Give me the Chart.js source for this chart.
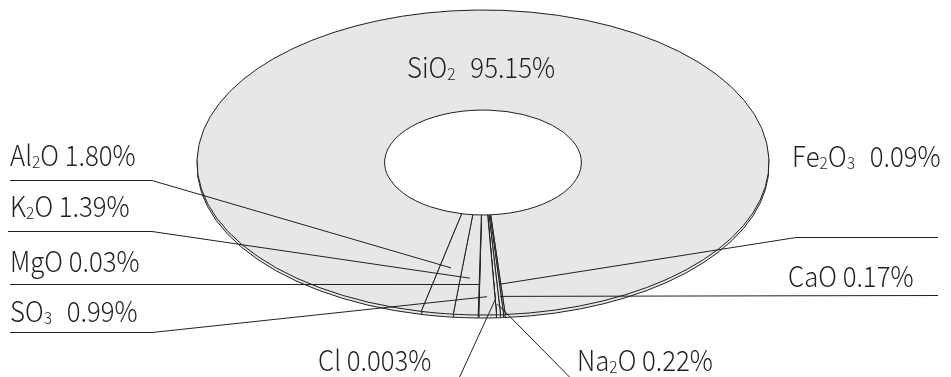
<!DOCTYPE html>
<html>
<head>
<meta charset="utf-8">
<style>
  html, body { margin: 0; padding: 0; background: #fff; overflow: hidden; }
  canvas { display: block; }
</style>
<script src="https://cdn.jsdelivr.net/npm/chart.js@4/dist/chart.umd.min.js"></script>
</head>
<body>
<canvas id="chart" width="951" height="377"></canvas>
<script>
// Oxide composition (mass %), in the order the ring is drawn (clockwise from the end of SiO2)
const components = ['SiO2', 'Fe2O3', 'CaO', 'Na2O', 'Cl', 'SO3', 'MgO', 'K2O', 'Al2O'];
const shares     = [95.15, 0.09, 0.17, 0.22, 0.003, 0.99, 0.03, 1.39, 1.80];

// Styling
const FILL = '#e6e7e8';
const INK = '#231f20';
const FONT = '"Noto Sans CJK KR", "Noto Sans", sans-serif';
const FONT_WEIGHT = 300;
const FONT_SIZE = 28;
const TEXT_SQUEEZE = 0.92;    // slightly condensed lettering
const SUB_SCALE = 0.6;
const SUB_DROP = 1.5;

// Tilted disc: screen centre, radii of the outer ellipse, thickness of the rim
const DISC = { cx: 483, cy: 162.5, rx: 286, ry: 152.5, depth: 3 };
const CUTOUT = 34.4;          // hole, % of the outer radius
const MINOR_CENTRE = 94;      // canvas angle (deg) the small oxides gather around

// Callouts: text anchor (left, baseline), leader route, and where the leader lands on its slice
const callouts = {
  'SiO2':  { x: 407, y: 78 },
  'Al2O':  { x: 10,  y: 166, route: [[10, 180], [152, 180]], r: 0.70 },
  'K2O':   { x: 10,  y: 217, route: [[8, 231], [152, 231]],  r: 0.76 },
  'MgO':   { x: 10,  y: 272, route: [[10, 284]],             r: 0.80 },
  'SO3':   { x: 10,  y: 322, route: [[10, 332], [152, 332]], r: 0.88 },
  'Cl':    { x: 318, y: 371, route: [[458, 380]],            r: 0.90 },
  'Na2O':  { x: 577, y: 371, route: [[573, 380]],            r: 0.93 },
  'CaO':   { x: 788, y: 287, route: [[938, 295]],            r: 0.88 },
  'Fe2O3': { x: 792, y: 167, route: [[938, 237], [796, 237]], r: 0.80 }
};

const total = shares.reduce((a, b) => a + b, 0);
const minorSpan = 360 * (total - shares[0]) / total;
const ROTATION = MINOR_CENTRE + minorSpan / 2 + 90;

function formatShare(v) {
  return (v < 0.01 ? v.toFixed(3) : v.toFixed(2)) + '%';
}

// Squash the round doughnut into the tilted ellipse, with a thin rim underneath
const ellipseDisc = {
  id: 'ellipseDisc',
  beforeDatasetsDraw(chart) {
    const ctx = chart.ctx;
    const arcs = chart.getDatasetMeta(0).data;
    const { x, y, outerRadius, innerRadius } =
      arcs[0].getProps(['x', 'y', 'outerRadius', 'innerRadius'], true);
    const sx = DISC.rx / outerRadius;
    const sy = DISC.ry / outerRadius;

    // keep outlines 1px wide whatever the squash
    const baseStroke = ctx.stroke;
    ctx.stroke = function () {
      const m = this.getTransform();
      this.setTransform(1, 0, 0, 1, 0, 0);
      baseStroke.apply(this, arguments);
      this.setTransform(m);
    };

    const paint = (dy) => {
      ctx.save();
      ctx.translate(DISC.cx, DISC.cy + dy);
      ctx.scale(sx, sy);
      ctx.translate(-x, -y);
      arcs.forEach(a => a.draw(ctx));
      ctx.restore();
    };

    // rim: the ring pushed down, kept out of the hole
    ctx.save();
    ctx.beginPath();
    ctx.rect(0, 0, chart.width, chart.height);
    ctx.ellipse(DISC.cx, DISC.cy, DISC.rx * innerRadius / outerRadius,
                DISC.ry * innerRadius / outerRadius, 0, 0, Math.PI * 2);
    ctx.clip('evenodd');
    paint(DISC.depth);
    ctx.restore();

    paint(0);
    delete ctx.stroke;
    return false;
  }
};

function drawFormulaLabel(ctx, name, valueText, x, y) {
  ctx.save();
  ctx.translate(x, y);
  ctx.scale(TEXT_SQUEEZE, 1);
  let cx = 0;
  let lastSub = false;
  for (let i = 0; i < name.length; i++) {
    const ch = name[i];
    const sub = /\d/.test(ch) && i > 0 && /[A-Za-z]/.test(name[i - 1]);
    ctx.font = `${FONT_WEIGHT} ${sub ? Math.round(FONT_SIZE * SUB_SCALE) : FONT_SIZE}px ${FONT}`;
    ctx.fillText(ch, cx, sub ? SUB_DROP : 0);
    cx += ctx.measureText(ch).width;
    lastSub = sub;
  }
  ctx.font = `${FONT_WEIGHT} ${FONT_SIZE}px ${FONT}`;
  cx += lastSub ? 16 : ctx.measureText(' ').width;
  ctx.fillText(valueText, cx, 0);
  ctx.restore();
}

const oxideCallouts = {
  id: 'oxideCallouts',
  afterDraw(chart) {
    const ctx = chart.ctx;
    const arcs = chart.getDatasetMeta(0).data;
    ctx.save();
    ctx.strokeStyle = INK;
    ctx.fillStyle = INK;
    ctx.lineWidth = 1;
    ctx.textAlign = 'left';
    ctx.textBaseline = 'alphabetic';

    chart.data.labels.forEach((name, i) => {
      const c = callouts[name];
      if (!c) return;
      if (c.route) {
        const { startAngle, endAngle } = arcs[i].getProps(['startAngle', 'endAngle'], true);
        const mid = (startAngle + endAngle) / 2;
        const ex = DISC.cx + Math.cos(mid) * c.r * DISC.rx;
        const ey = DISC.cy + Math.sin(mid) * c.r * DISC.ry;
        ctx.beginPath();
        c.route.forEach(([px, py], k) => {
          if (k === 0) ctx.moveTo(px, py + 0.5); else ctx.lineTo(px, py + 0.5);
        });
        ctx.lineTo(ex, ey);
        ctx.stroke();
      }
      drawFormulaLabel(ctx, name, formatShare(chart.data.datasets[0].data[i]), c.x, c.y);
    });
    ctx.restore();
  }
};

new Chart(document.getElementById('chart'), {
  type: 'doughnut',
  data: {
    labels: components,
    datasets: [{
      data: shares,
      backgroundColor: FILL,
      borderColor: INK,
      borderWidth: 1,
      hoverOffset: 0
    }]
  },
  options: {
    responsive: false,
    animation: false,
    devicePixelRatio: 1,
    rotation: ROTATION,
    cutout: CUTOUT + '%',
    events: [],
    plugins: {
      legend: { display: false },
      tooltip: { enabled: false }
    }
  },
  plugins: [ellipseDisc, oxideCallouts]
});
</script>
</body>
</html>
